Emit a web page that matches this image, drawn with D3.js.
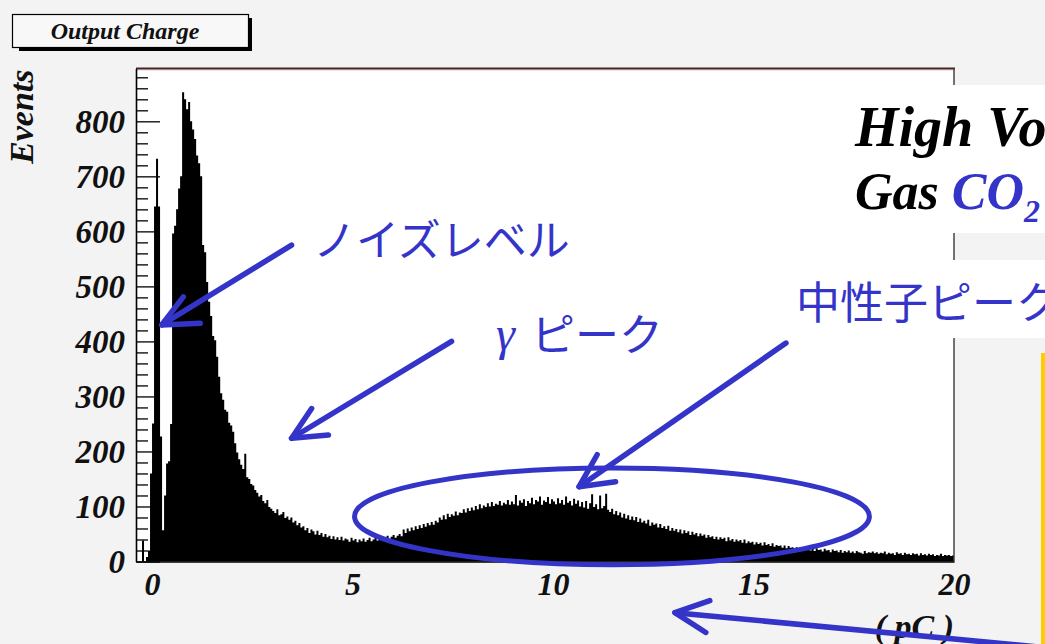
<!DOCTYPE html>
<html>
<head>
<meta charset="utf-8">
<script src="https://cdn.jsdelivr.net/npm/d3@7"></script>
<style>
  html, body { margin: 0; padding: 0; background: #f3f3f3; }
  svg { display: block; }
</style>
</head>
<body>
<svg id="chart" width="1045" height="644"></svg>
<script>
// ---- Output charge spectrum: counts per 0.05 pC bin, from -0.4 pC to 20 pC ----
const binLow = -0.4;
const binHigh = 20;
const binWidth = 0.05;

// -0.40 .. -0.05 pC
const countsBelowZero = [0, 0, 0, 38, 0, 8, 20, 160];
// 0 .. 1 pC : noise spike and gamma peak
const countsPeak = [251, 645, 732, 645, 227, 57, 120, 178, 182, 250, 596, 610, 640, 678, 700, 853, 840, 822, 835, 800];
// 1 .. 6 pC : gamma tail
const countsTail = [
  785, 768, 738, 724, 700, 575, 562, 508, 472, 446, 410, 402, 372, 336, 306, 294, 276, 272, 252, 247,
  236, 215, 198, 186, 176, 168, 196, 153, 150, 141, 138, 130, 125, 118, 121, 110, 106, 112, 99, 96,
  92, 88, 95, 84, 86, 90, 79, 82, 76, 80, 71, 74, 66, 70, 62, 64, 57, 61, 52, 58,
  55, 49, 56, 48, 52, 45, 50, 44, 47, 41, 46, 40, 44, 39, 45, 38, 42, 40, 36, 43,
  38, 41, 35, 40, 37, 42, 36, 39, 43, 37, 40, 44, 38, 42, 46, 40, 43, 47, 41, 45
];
// 6 .. 20 pC : neutron peak and high-charge tail
const countsNeutron = [
  48, 43, 47, 50, 46, 58, 52, 60, 55, 62, 57, 64, 59, 66, 61, 68, 63, 70, 66, 72,
  67, 74, 71, 80, 76, 84, 77, 87, 81, 86, 83, 91, 84, 89, 88, 95, 89, 97, 92, 98,
  93, 101, 95, 104, 97, 102, 99, 106, 100, 108, 101, 105, 103, 110, 102, 107, 104, 112, 103, 109,
  104, 121, 102, 111, 107, 113, 101, 110, 106, 116, 104, 112, 109, 118, 103, 111, 108, 117, 105, 113,
  109, 104, 115, 106, 112, 103, 118, 107, 110, 102, 114, 105, 111, 100, 108, 98, 110, 96, 106, 122,
  99, 104, 95, 120, 97, 101, 123, 94, 90, 96, 86, 92, 84, 89, 80, 87, 78, 84, 76, 82,
  75, 81, 72, 78, 71, 74, 69, 76, 65, 71, 67, 69, 62, 68, 61, 64, 59, 65, 56, 61,
  56, 59, 53, 58, 51, 57, 52, 55, 48, 54, 49, 52, 46, 51, 47, 49, 43, 48, 44, 46,
  41, 45, 40, 44, 41, 43, 37, 44, 38, 41, 36, 40, 37, 39, 34, 40, 33, 37, 34, 36,
  31, 35, 32, 34, 29, 35, 30, 32, 28, 33, 27, 30, 28, 29, 25, 29, 24, 28, 25, 26,
  23, 26, 21, 25, 22, 24, 21, 25, 20, 23, 19, 24, 21, 22, 18, 23, 20, 21, 17, 22,
  19, 20, 17, 21, 16, 19, 17, 20, 16, 18, 15, 19, 17, 16, 14, 19, 15, 17, 16, 18,
  15, 17, 14, 16, 15, 18, 13, 16, 14, 15, 12, 17, 14, 15, 12, 16, 13, 14, 12, 15,
  13, 14, 11, 15, 12, 13, 11, 14, 12, 13, 10, 12, 11, 14, 10, 12, 11, 12, 10, 11
];

const xTickValues = [0, 5, 10, 15, 20];
const xTickLabels = ["0", "5", "10", "15", "20"];
const yTickValues = [0, 100, 200, 300, 400, 500, 600, 700, 800];
const yTickLabels = ["0", "100", "200", "300", "400", "500", "600", "700", "800"];
const yMinorStep = 20;
const yMax = 896;

const histTitle = "Output Charge";
const xTitle = "( pC )";
const yTitle = "Events";

// ---- layout ----
const W = 1045, H = 644;
const plot = { left: 136, right: 954, top: 68.5, bottom: 561.5 };
const blue = "#3434c9";
const rootFont = "'Liberation Serif', 'Times New Roman', serif";
const jpFont = "'Noto Sans CJK JP', 'Noto Sans', sans-serif";

const svg = d3.select("#chart");

const x = d3.scaleLinear().domain([binLow, binHigh]).range([plot.left, plot.right]);
const y = d3.scaleLinear().domain([0, yMax]).range([plot.bottom, plot.top]);

// page + pad
svg.append("rect").attr("width", W).attr("height", H).attr("fill", "#f3f3f3");
svg.append("rect")
  .attr("x", plot.left).attr("y", plot.top)
  .attr("width", plot.right - plot.left).attr("height", plot.bottom - plot.top)
  .attr("fill", "#ffffff");

// histogram, filled black
const counts = [].concat(countsBelowZero, countsPeak, countsTail, countsNeutron);
const bins = counts.map((c, i) => ({ x0: binLow + i * binWidth, c }));
bins.push({ x0: binHigh, c: counts[counts.length - 1] });
const area = d3.area()
  .curve(d3.curveStepAfter)
  .x(d => x(d.x0))
  .y0(y(0))
  .y1(d => y(d.c));
svg.append("path").datum(bins).attr("d", area).attr("fill", "#000");

// frame: top and right edges
svg.append("line")
  .attr("x1", plot.left).attr("x2", plot.right)
  .attr("y1", plot.top + 1.6).attr("y2", plot.top + 1.6)
  .attr("stroke", "#f2dede").attr("stroke-width", 1.5);
svg.append("line")
  .attr("x1", plot.left).attr("x2", plot.right + 1)
  .attr("y1", plot.top).attr("y2", plot.top)
  .attr("stroke", "#4a2424").attr("stroke-width", 2);
svg.append("line")
  .attr("x1", plot.right).attr("x2", plot.right)
  .attr("y1", plot.top).attr("y2", plot.bottom)
  .attr("stroke", "#444").attr("stroke-width", 1.5);

function styleLabels(sel, size) {
  sel.attr("font-family", rootFont)
    .attr("font-weight", "bold")
    .attr("font-style", "italic")
    .attr("font-size", size)
    .attr("fill", "#111");
}

// y axis: minor ticks every 20, major every 100, drawn inward
const yMinorValues = d3.range(0, yMax, yMinorStep).filter(v => v % 100 !== 0);
svg.append("g")
  .attr("transform", `translate(${plot.left},0)`)
  .call(d3.axisLeft(y).tickValues(yMinorValues).tickFormat("").tickSizeInner(-12).tickSizeOuter(0))
  .call(g => g.select(".domain").remove())
  .call(g => g.selectAll(".tick line").attr("stroke", "#000").attr("stroke-width", 1.3));

const gy = svg.append("g")
  .attr("transform", `translate(${plot.left},0)`)
  .call(d3.axisLeft(y).tickValues(yTickValues)
    .tickFormat((d, i) => yTickLabels[i])
    .tickSizeInner(-24).tickSizeOuter(0).tickPadding(11));
gy.select(".domain").attr("stroke", "#000").attr("stroke-width", 1.6);
gy.selectAll(".tick line").attr("stroke", "#000").attr("stroke-width", 1.3);
gy.selectAll(".tick text").call(styleLabels, 33).attr("dy", "0.34em");

// x axis
const gx = svg.append("g")
  .attr("transform", `translate(0,${plot.bottom})`)
  .call(d3.axisBottom(x).tickValues(xTickValues)
    .tickFormat((d, i) => xTickLabels[i])
    .tickSize(0).tickSizeOuter(0).tickPadding(11));
gx.select(".domain").attr("stroke", "#000").attr("stroke-width", 1.6);
gx.selectAll(".tick text").call(styleLabels, 32);

// axis titles
svg.append("text")
  .attr("x", plot.right).attr("y", 638)
  .attr("text-anchor", "end")
  .text(xTitle)
  .call(styleLabels, 34);
svg.append("text")
  .attr("transform", `translate(33,${plot.top + 1}) rotate(-90)`)
  .attr("text-anchor", "end")
  .text(yTitle)
  .call(styleLabels, 34);

// histogram title box with shadow
svg.append("rect").attr("x", 19).attr("y", 18).attr("width", 233).attr("height", 33).attr("fill", "#000");
svg.append("rect").attr("x", 12.5).attr("y", 14.5).attr("width", 236).attr("height", 33)
  .attr("fill", "#f8f8f8").attr("stroke", "#000").attr("stroke-width", 1.2);
svg.append("text")
  .attr("x", 125).attr("y", 38.5)
  .attr("text-anchor", "middle")
  .text(histTitle)
  .call(styleLabels, 24);

// ---- annotations ----
// white text panels on the right
svg.append("rect").attr("x", 830).attr("y", 85).attr("width", W - 830).attr("height", 148).attr("fill", "#fff");
svg.append("rect").attr("x", 790).attr("y", 260).attr("width", W - 790).attr("height", 78).attr("fill", "#fff");
// yellow frame edge of a neighbouring panel
svg.append("rect").attr("x", 1041).attr("y", 353).attr("width", 4).attr("height", H - 353).attr("fill", "#ffcc00");

svg.append("text").attr("x", 855).attr("y", 146)
  .attr("font-family", rootFont).attr("font-weight", "bold").attr("font-style", "italic")
  .attr("font-size", 56).attr("fill", "#000").text("High Voltage");
const gas = svg.append("text").attr("x", 855).attr("y", 209)
  .attr("font-family", rootFont).attr("font-weight", "bold").attr("font-style", "italic")
  .attr("font-size", 52).attr("fill", "#000");
gas.append("tspan").text("Gas ");
gas.append("tspan").attr("fill", blue).text("CO");
gas.append("tspan").attr("fill", blue).attr("font-size", 32).attr("dy", 13).text("2");

function jpText(px, py, str, size) {
  return svg.append("text").attr("x", px).attr("y", py)
    .attr("font-family", jpFont).attr("font-size", size).attr("fill", blue).text(str);
}
jpText(313, 256, "ノイズレベル", 43);
jpText(796, 319, "中性子ピーク", 44);
svg.append("text").attr("x", 496).attr("y", 350)
  .attr("font-family", rootFont).attr("font-style", "italic")
  .attr("font-size", 48).attr("fill", blue).text("γ");
jpText(531, 351, "ピーク", 44);

// arrows, given in chart units (pC, events)
const arrows = [
  { from: [3.48, 575], tip: [0.24, 430], heads: [[0.78, 481], [1.20, 433]] },
  { from: [7.47, 400], tip: [3.48, 224], heads: [[3.98, 278], [4.40, 230]] },
  { from: [15.81, 397], tip: [10.65, 136], heads: [[11.10, 194], [11.56, 145]] },
  { from: [22.64, -159], tip: [13.04, -93], heads: [[13.91, -71], [13.81, -129]] }
];
const ag = svg.append("g")
  .attr("stroke", blue).attr("stroke-width", 5.5)
  .attr("stroke-linecap", "round").attr("stroke-linejoin", "round").attr("fill", "none");
arrows.forEach(a => {
  const line = d3.line().x(p => x(p[0])).y(p => y(p[1]));
  ag.append("path").attr("d", line([a.from, a.tip]));
  ag.append("path").attr("d", line([a.heads[0], a.tip, a.heads[1]]));
});

// ellipse around the neutron peak
const ring = { cx: 11.47, cy: 82, halfWidth: 6.42, halfHeight: 88 };
svg.append("ellipse")
  .attr("cx", x(ring.cx)).attr("cy", y(ring.cy))
  .attr("rx", x(ring.cx + ring.halfWidth) - x(ring.cx))
  .attr("ry", y(0) - y(ring.halfHeight))
  .attr("fill", "none").attr("stroke", blue).attr("stroke-width", 5);
</script>
</body>
</html>
